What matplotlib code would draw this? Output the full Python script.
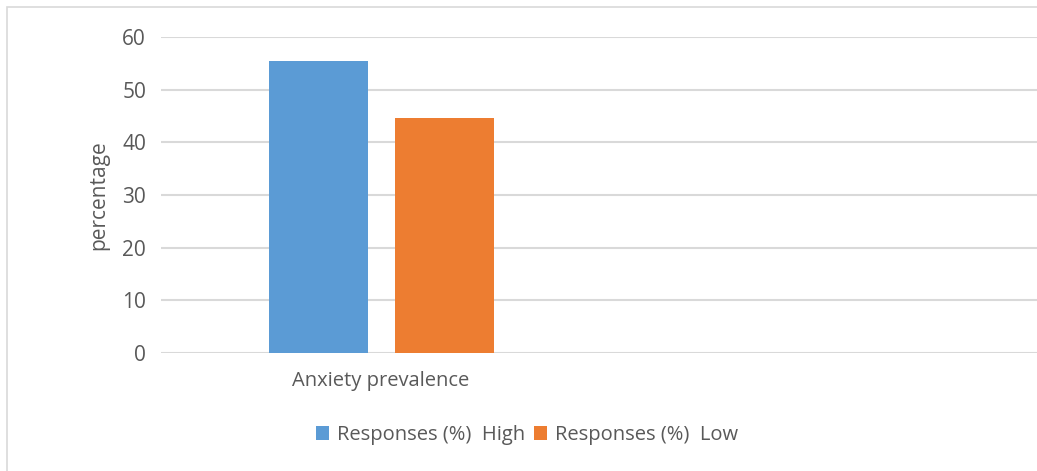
import matplotlib.pyplot as plt
from matplotlib.patches import Rectangle

# Data
categories = ["Anxiety prevalence", ""]
series_names = ["Responses (%)  High", "Responses (%)  Low"]
high = [55.4]
low = [44.6]
yticks = [0, 10, 20, 30, 40, 50, 60]

blue = "#5B9BD5"
orange = "#ED7D31"
grid_col = "#D9D9D9"
text_col = "#595959"

plt.rcParams['font.family'] = ['Open Sans', 'DejaVu Sans']

W, H = 1037, 471
fig = plt.figure(figsize=(W / 100, H / 100), dpi=100)

# chart border (only top and left visible)
fig.patches.append(Rectangle((7 / W, -0.1), 1.2, (H - 7) / H + 0.1,
                             transform=fig.transFigure, fill=False,
                             edgecolor=grid_col, linewidth=1.2))

left, right = 160.7, 1042
top, bottom = 37.3, 352.7
ax = fig.add_axes([left / W, (H - bottom) / H, (right - left) / W, (bottom - top) / H])

bw = 0.225
ax.bar([0 - 0.1425], high, width=bw, color=blue, label=series_names[0], zorder=3)
ax.bar([0 + 0.1435], low, width=bw, color=orange, label=series_names[1], zorder=3)

ax.set_xlim(-0.5, 1.5)
ax.set_ylim(0, 60)
ax.set_yticks(yticks)
ax.set_xticks([0, 1])
ax.set_xticklabels(categories, fontsize=14.5)
ax.yaxis.grid(True, color=grid_col, linewidth=1.5, zorder=0)
ax.set_axisbelow(True)
for s in ax.spines.values():
    s.set_visible(False)
ax.tick_params(length=0, colors=text_col)
ax.tick_params(axis='y', pad=10.5, labelsize=15)
ax.tick_params(axis='x', pad=13)
ax.set_ylabel("percentage", color=text_col, fontsize=15, labelpad=9)

fig.legend(loc='center', bbox_to_anchor=(527 / W, 1 - 435 / H), ncol=2,
           frameon=False, fontsize=14.5, labelcolor=text_col,
           handlelength=0.65, handleheight=0.65, handletextpad=0.4,
           columnspacing=0.4)

fig.savefig("out.png", dpi=100)
